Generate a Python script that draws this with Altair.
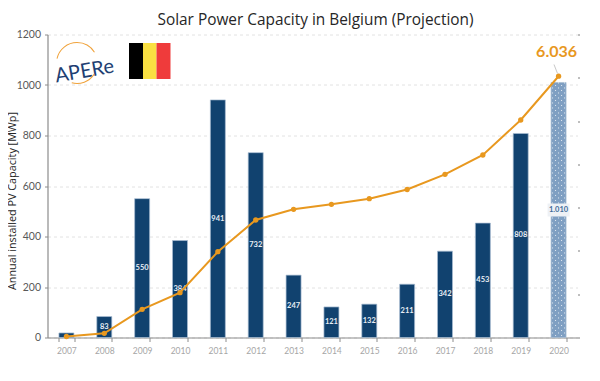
import altair as alt
import pandas as pd

years = ["2007","2008","2009","2010","2011","2012","2013","2014","2015","2016","2017","2018","2019","2020"]
annual = [18, 83, 550, 384, 941, 732, 247, 121, 132, 211, 342, 453, 808, 1010]
labels = ["", "83", "550", "384", "941", "732", "247", "121", "132", "211", "342", "453", "808", "1.010"]
cumulative = [23, 97, 651, 1035, 1982, 2715, 2962, 3077, 3207, 3419, 3770, 4216, 5025, 6036]
kinds = ["actual"] * 13 + ["projection"]

df = pd.DataFrame({"year": years, "annual": annual, "label": labels, "cum": cumulative, "kind": kinds})
df["mid"] = df["annual"] / 2
df["cumlabel"] = [""] * 13 + ["6.036"]

FONT = "Lato"
W, H = 530, 303
NAVY = "#11426f"
ORANGE = "#e8981f"
one = pd.DataFrame({"a": [0]})
YTITLE = "Annual installed PV Capacity [MWp]"

x = alt.X("year:N", sort=years, title=None, scale=alt.Scale(paddingInner=0.6, paddingOuter=0.3),
          axis=alt.Axis(tickBand="extent", labelColor="#a6a6a6", labelFontSize=8.5, labelFont=FONT, labelAngle=0,
                        tickColor="#8c8c8c", domainColor="#8c8c8c", tickSize=4, labelPadding=5, domainWidth=1.2))
yscale = alt.Scale(domain=[0, 1200])
yaxis = alt.Axis(values=[0,200,400,600,800,1000,1200], format="d", labelColor="#595959", labelFontSize=10.5, labelFont=FONT,
                 titleFont="Open Sans", titleFontSize=10.8, titleFontWeight="normal", titleColor="#262626",
                 titleX=-30, titleY=166, titleAnchor="middle", titleAlign="center",
                 tickColor="#8c8c8c", domainColor="#8c8c8c", tickSize=3, domainWidth=1.2, labelPadding=4,
                 grid=True, gridColor="#e2e2e2", gridDash=[3, 3])
yl = alt.Y("annual:Q", scale=yscale, title=YTITLE, axis=yaxis)
midy = alt.Y("mid:Q", scale=yscale, title=YTITLE, axis=yaxis)

base = alt.Chart(df)
actual = base.transform_filter("datum.kind=='actual'")
projected = base.transform_filter("datum.kind=='projection'")
bars = actual.mark_bar(color=NAVY, stroke="#a9bdd3", strokeWidth=0.7, size=15).encode(x=x, y=yl)
proj = projected.mark_bar(color="#7f9fc2", stroke="#a9bdd3", strokeWidth=0.7, size=15).encode(x=x, y=yl)

dots = []
for i, off in enumerate([-6, -3, 0, 3, 6]):
    dots.append(projected.mark_rule(
        color="#ffffff", strokeWidth=1, strokeDash=[1, 4], strokeDashOffset=i % 2 * 2.5, xOffset=off, opacity=0.8
    ).encode(x=x, y=yl))

txt = actual.mark_text(color="#e8eef5", fontSize=7.5, font=FONT, fontWeight="bold").encode(x=x, y=midy, text="label:N")
box = projected.mark_tick(color="#eef1f5", size=22, thickness=13, opacity=1).encode(x=x, y=midy)
boxtxt = projected.mark_text(color="#3f6a99", fontSize=7.5, font=FONT, fontWeight="bold").encode(x=x, y=midy, text="label:N")

yr = alt.Y("cum:Q", scale=alt.Scale(domain=[0, 7000]), title=None,
           axis=alt.Axis(orient="right", values=[0,1000,2000,3000,4000,5000,6000,7000], labels=False, domain=False,
                         tickSize=2, tickColor="#7f7f7f", grid=False))
line = base.mark_line(color=ORANGE, strokeWidth=2).encode(x=x, y=yr)
pts = base.mark_point(color=ORANGE, filled=True, size=28, opacity=1).encode(x=x, y=yr)
cumlab = base.transform_filter("datum.cumlabel!=''").mark_text(color=ORANGE, fontSize=16, font=FONT, fontWeight="bold", dy=-24, dx=-2).encode(
    x=x, y=yr, text="cumlabel:N")
leader = alt.Chart(one).mark_rule(color="#c8c8c8", strokeWidth=1).encode(
    x=alt.value(506.5), x2=alt.value(510), y=alt.value(30), y2=alt.value(39))

title = alt.Chart(pd.DataFrame({"t": ["Solar Power Capacity in Belgium (Projection)"]})).mark_text(
    font="Open Sans", fontSize=15.4, color="#262626").encode(text="t:N", x=alt.value(268), y=alt.value(-15))

flagdf = pd.DataFrame({"c": ["#000000", "#fae042", "#ef3b3b"], "a": [81.5, 95.5, 109], "b": [95.5, 109, 123]})
flag = alt.Chart(flagdf).mark_rect().encode(
    x=alt.X("a:Q", scale=None), x2="b:Q", y=alt.value(8.5), y2=alt.value(44.5), color=alt.Color("c:N", scale=None))

logo_t = alt.Chart(pd.DataFrame({"t": ["APERe"]})).mark_text(
    font="Lato", fontSize=20, color="#1e3f73", angle=350).encode(text="t:N", x=alt.value(37), y=alt.value(37))
arcs = [alt.Chart(one).mark_arc(color="#f0a23a", innerRadius=20, outerRadius=21, theta=t0, theta2=t1).encode(
    x=alt.value(29.5), y=alt.value(28.5)) for t0, t1 in [(4.93, 6.283), (0, 1.02), (2.16, 3.4)]]

left = alt.layer(bars, proj, *dots, txt, box, boxtxt)
right = alt.layer(line, pts, cumlab)
chart = alt.layer(left, right, leader, title, flag, logo_t, *arcs).resolve_scale(y="independent", color="independent").properties(
    width=W, height=H, padding={"left": 39.5, "top": 26.5, "right": 14, "bottom": 35},
    autosize=alt.AutoSizeParams(type="none"),
).configure_view(stroke=None)

chart.save("out.html", embed_options={"renderer": "svg", "actions": False})
